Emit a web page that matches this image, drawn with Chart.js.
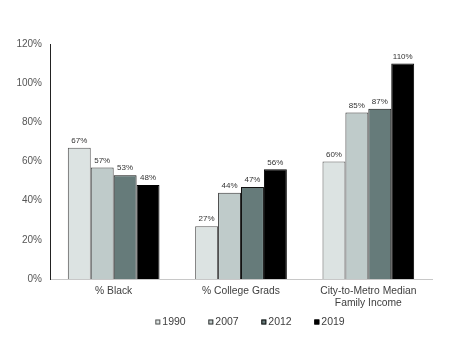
<!DOCTYPE html>
<html><head><meta charset="utf-8">
<script src="https://cdn.jsdelivr.net/npm/chart.js@4/dist/chart.umd.min.js"></script>
<style>html,body{margin:0;padding:0;background:#fff}#w{width:454px;height:355px}</style>
</head><body><div id="w"><canvas id="c"></canvas></div>
<script>
const categories = [["% Black"], ["% College Grads"], ["City-to-Metro Median", "Family Income"]];
const years = ["1990", "2007", "2012", "2019"];
const v1990 = [67, 27, 60];
const v2007 = [57, 44, 85];
const v2012 = [53, 47, 87];
const v2019 = [48, 56, 110];
const yTicks = [0, 20, 40, 60, 80, 100, 120];
const colors = ["#dce3e2", "#bfcbca", "#667b7a", "#000000"];
const borders = ["#555555", "#333333", "#111111", "#000000"];
const series = [v1990, v2007, v2012, v2019];
const FONT = '"Liberation Sans", Arial, sans-serif';

const labelPlugin = {
  id: 'barLabels',
  afterDatasetsDraw(chart) {
    const ctx = chart.ctx;
    ctx.save();
    ctx.font = '8px ' + FONT;
    ctx.fillStyle = '#333';
    ctx.textAlign = 'center';
    ctx.textBaseline = 'bottom';
    chart.data.datasets.forEach((ds, i) => {
      chart.getDatasetMeta(i).data.forEach((bar, j) => {
        ctx.fillText(ds.data[j] + '%', bar.x, bar.y - 3);
      });
    });
    ctx.restore();
  }
};

const legendPlugin = {
  id: 'customLegend',
  afterDraw(chart) {
    const ctx = chart.ctx;
    const ca = chart.chartArea;
    ctx.save();
    ctx.font = '10.5px ' + FONT;
    ctx.textBaseline = 'middle';
    ctx.textAlign = 'left';
    const pitch = 53, box = 5, gap = 2;
    const items = chart.data.datasets;
    const lastW = box + gap + ctx.measureText(items[items.length - 1].label).width;
    const total = pitch * (items.length - 1) + lastW;
    const cx = (ca.left + ca.right) / 2 + 9;
    let x = cx - total / 2;
    const y = ca.bottom + 43;
    items.forEach(ds => {
      ctx.fillStyle = ds.backgroundColor;
      ctx.fillRect(x, y - box / 2, box, box);
      ctx.strokeStyle = ds.borderColor;
      ctx.lineWidth = 1;
      ctx.strokeRect(x + 0.5, y - box / 2 + 0.5, box - 1, box - 1);
      ctx.fillStyle = '#404040';
      ctx.fillText(ds.label, x + box + gap, y);
      x += pitch;
    });
    ctx.restore();
  }
};

new Chart(document.getElementById('c'), {
  type: 'bar',
  data: {
    labels: categories,
    datasets: years.map((y, i) => ({
      label: y,
      data: series[i],
      backgroundColor: colors[i],
      borderColor: borders[i],
      borderWidth: 1,
      categoryPercentage: 0.72,
      barPercentage: 1.0
    }))
  },
  options: {
    responsive: true,
    maintainAspectRatio: false,
    animation: false,
    layout: { padding: { top: 44, right: 22, bottom: 44, left: 0 } },
    plugins: {
      tooltip: { enabled: false },
      legend: { display: false }
    },
    scales: {
      x: {
        grid: { display: false, drawTicks: false, tickLength: 0 },
        border: { display: true, color: '#c8c8c8', width: 1 },
        ticks: { color: '#404040', padding: 6, font: { size: 10.3, family: FONT }, maxRotation: 0, autoSkip: false },
        afterFit(s) { s.height = 32; }
      },
      y: {
        min: 0, max: 120,
        afterBuildTicks(s) { s.ticks = yTicks.map(v => ({ value: v })); },
        grid: { display: false, drawTicks: false, tickLength: 0 },
        border: { display: true, color: '#222', width: 1 },
        ticks: { color: '#555', padding: 8, font: { size: 10, family: FONT }, callback: v => v + '%' },
        afterFit(s) { s.width = 50; }
      }
    }
  },
  plugins: [labelPlugin, legendPlugin]
});
</script>
</body></html>
